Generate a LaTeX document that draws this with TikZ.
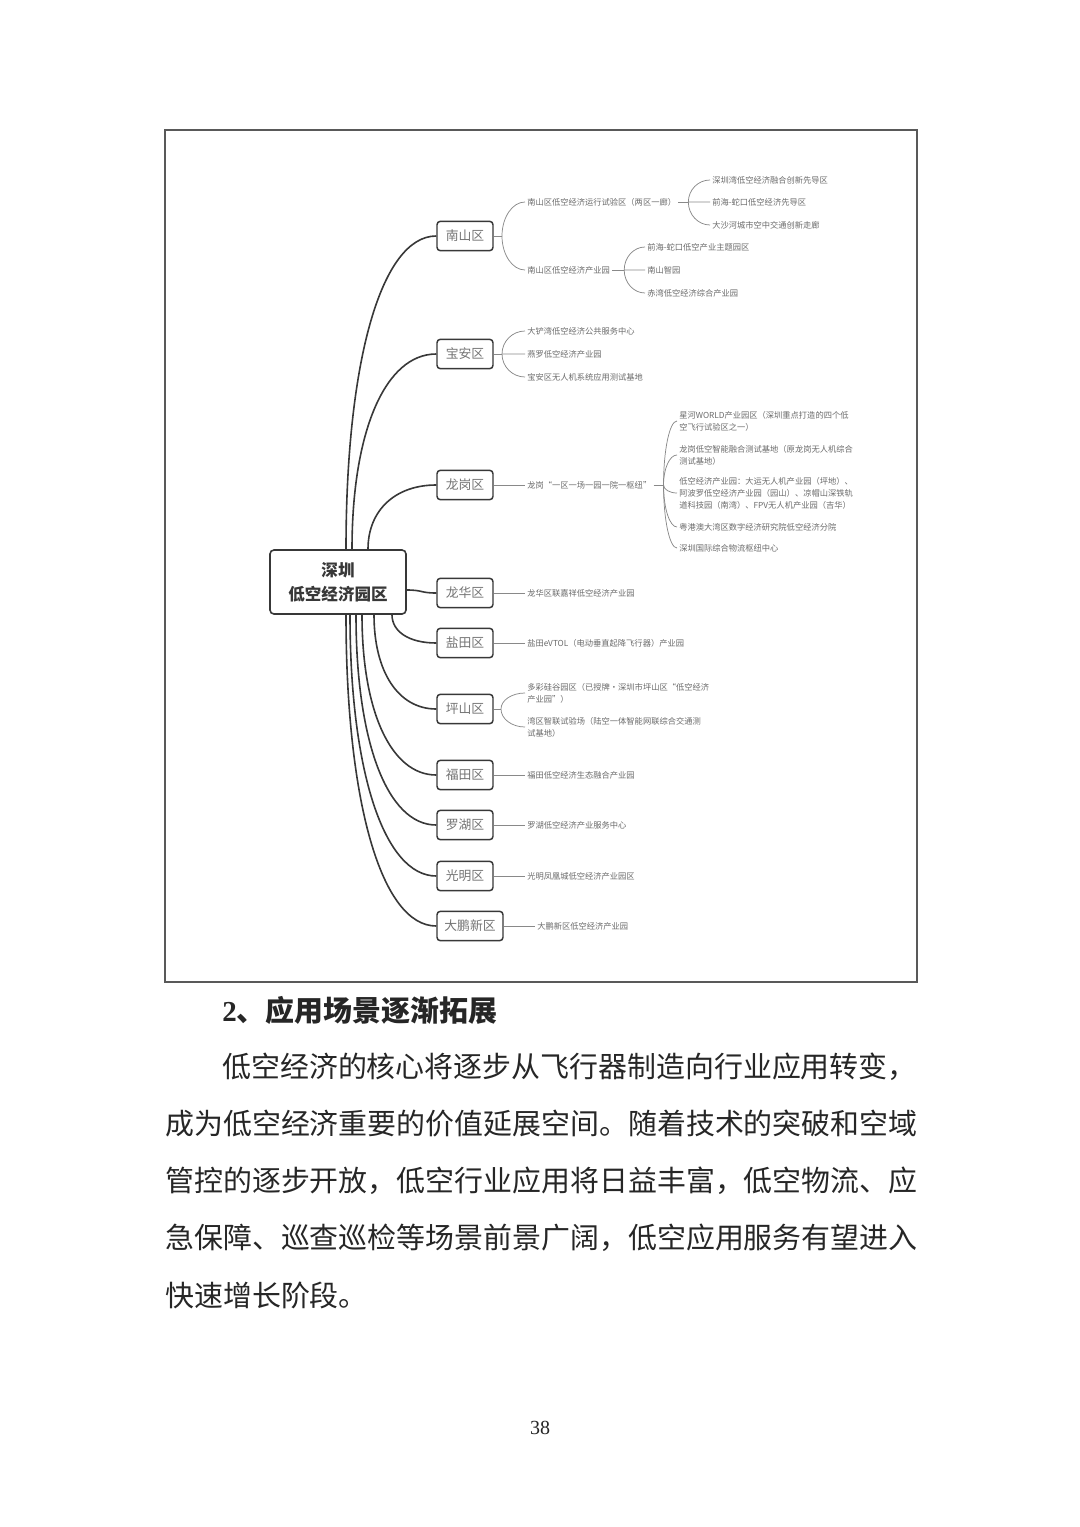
\documentclass[tikz,border=0pt]{standalone}
\usepackage{fontspec}
\setmainfont{Liberation Serif}
\newfontfamily\cjk{Noto Sans CJK SC}
\usetikzlibrary{positioning, calc}
\definecolor{ast}{gray}{0.22}
\definecolor{blattgrau}{gray}{0.42}
\definecolor{rahmen}{gray}{0.35}
\definecolor{fliess}{gray}{0.15}
\newcommand{\bogen}[2]{\draw[fein] (#1) .. controls ($(#1)!0.55!(#1|-#2.west)$) and ($(#2.west)!0.55!(#1|-#2.west)$) .. (#2.west);}
\tikzset{
  haupt/.style={draw=ast, rounded corners=3pt, line width=1.2pt, fill=white, text=ast, align=center, inner sep=0pt,
    minimum width=102pt, minimum height=48pt, font=\cjk\bfseries\fontsize{12.4}{18}\selectfont},
  bezirk/.style={draw=ast, rounded corners=2.5pt, line width=1.1pt, fill=white, text=ast!70, inner sep=0pt,
    minimum width=42pt, minimum height=22pt, font=\cjk\fontsize{9.6}{12}\selectfont},
  blatt/.style={anchor=west, align=left, inner xsep=1.5pt, inner ysep=0pt, text=blattgrau, font=\cjk\fontsize{6.2}{9}\selectfont},
  zweig/.style={draw=ast, line width=1.2pt},
  fein/.style={draw=blattgrau!80, line width=0.55pt},
  zeile/.style={anchor=west, inner sep=0pt, text=fliess, font=\cjk\fontsize{21.7}{26}\selectfont},
}

\begin{document}
\begin{tikzpicture}[x=0.75pt, y=-0.75pt]
  \path[use as bounding box, fill=white] (0,0) rectangle (1080,1527);
  \draw[rahmen, line width=0.8pt] (165,130) rectangle (917,982);

  % Mitte und Bezirke
  \node[haupt] (hub) at (338,582) {深圳\\低空经济园区};
  \node[bezirk] (nanshan) at (465,236) {南山区};
  \node[bezirk] (baoan) at (465,354) {宝安区};
  \node[bezirk] (longgang) at (465,485) {龙岗区};
  \node[bezirk] (longhua) at (465,593) {龙华区};
  \node[bezirk] (yantian) at (465,643) {盐田区};
  \node[bezirk] (pingshan) at (465,709) {坪山区};
  \node[bezirk] (futian) at (465,775) {福田区};
  \node[bezirk] (luohu) at (465,825) {罗湖区};
  \node[bezirk] (guangming) at (465,876) {光明区};
  \node[bezirk, minimum width=49.5pt] (dapeng) at (470,926) {大鹏新区};

  \draw[zweig] ($(hub.north)+(8,0)$) .. controls +(0,-188) and +(-55,0) .. (nanshan.west);
  \draw[zweig] ($(hub.north)+(14,0)$) .. controls +(0,-118) and +(-51,0) .. (baoan.west);
  \draw[zweig] ($(hub.north)+(30,0)$) .. controls +(0,-39) and +(-41,0) .. (longgang.west);
  \draw[zweig] ($(hub.east)+(0,8)$) .. controls +(16,0) and +(-16,0) .. (longhua.west);
  \foreach \ziel/\ab/\v/\h in {yantian/54/17/27, pingshan/36/57/38, futian/24/97/45,
      luohu/18/127/49, guangming/12/157/52, dapeng/8/187/55}
    {\draw[zweig] ($(hub.south)+(\ab,0)$) .. controls +(0,\v) and +(-\h,0) .. (\ziel.west);}

  % Nanshan
  \node[blatt] (ns1) at (525,202) {南山区低空经济运行试验区（两区一廊）};
  \node[blatt] (ns2) at (525,270) {南山区低空经济产业园};
  \coordinate (jns) at (502,236);
  \draw[fein] (nanshan.east) -- (jns);
  \bogen{jns}{ns1} \bogen{jns}{ns2}
  \node[blatt] (ns11) at (710,180) {深圳湾低空经济融合创新先导区};
  \node[blatt] (ns12) at (710,202) {前海-蛇口低空经济先导区};
  \node[blatt] (ns13) at (710,225) {大沙河城市空中交通创新走廊};
  \coordinate (jns1) at ($(ns1.east)+(10,0)$);
  \draw[fein] (ns1.east) -- (jns1);
  \foreach \k in {ns11,ns12,ns13} {\bogen{jns1}{\k}}
  \node[blatt] (ns21) at (645,247) {前海-蛇口低空产业主题园区};
  \node[blatt] (ns22) at (645,270) {南山智园};
  \node[blatt] (ns23) at (645,293) {赤湾低空经济综合产业园};
  \coordinate (jns2) at ($(ns2.east)+(12,0)$);
  \draw[fein] (ns2.east) -- (jns2);
  \foreach \k in {ns21,ns22,ns23} {\bogen{jns2}{\k}}

  % Bao'an
  \node[blatt] (ba1) at (525,331) {大铲湾低空经济公共服务中心};
  \node[blatt] (ba2) at (525,354) {燕罗低空经济产业园};
  \node[blatt] (ba3) at (525,377) {宝安区无人机系统应用测试基地};
  \coordinate (jba) at (502,354);
  \draw[fein] (baoan.east) -- (jba);
  \foreach \k in {ba1,ba2,ba3} {\bogen{jba}{\k}}

  % Longgang
  \node[blatt] (lg0) at (525,485) {龙岗“一区一场一园一院一枢纽”};
  \node[blatt] (lg1) at (677,421) {星河WORLD产业园区（深圳重点打造的四个低\\空飞行试验区之一）};
  \node[blatt] (lg2) at (677,455) {龙岗低空智能融合测试基地（原龙岗无人机综合\\测试基地）};
  \node[blatt] (lg3) at (677,493) {低空经济产业园：大运无人机产业园（坪地）、\\阿波罗低空经济产业园（园山）、凉帽山深铁轨\\道科技园（南湾）、FPV无人机产业园（吉华）};
  \node[blatt] (lg4) at (677,527) {粤港澳大湾区数字经济研究院低空经济分院};
  \node[blatt] (lg5) at (677,548) {深圳国际综合物流枢纽中心};
  \coordinate (jlg) at ($(lg0.east)+(10,0)$);
  \draw[fein] (lg0.east) -- (jlg);
  \foreach \k in {lg1,lg2,lg3,lg4,lg5} {\bogen{jlg}{\k}}

  % Pingshan
  \node[blatt] (ps1) at (525,693) {多彩硅谷园区（已授牌·深圳市坪山区“低空经济\\产业园”）};
  \node[blatt] (ps2) at (525,727) {湾区智联试验场（陆空一体智能网联综合交通测\\试基地）};
  \coordinate (jps) at (501,709);
  \draw[fein] (pingshan.east) -- (jps);
  \bogen{jps}{ps1} \bogen{jps}{ps2}

  % einzelne Blaetter
  \node[blatt] (lh1) at (525,593) {龙华区联嘉祥低空经济产业园};
  \node[blatt] (yt1) at (525,643) {盐田eVTOL（电动垂直起降飞行器）产业园};
  \node[blatt] (ft1) at (525,775) {福田低空经济生态融合产业园};
  \node[blatt] (lu1) at (525,825) {罗湖低空经济产业服务中心};
  \node[blatt] (gm1) at (525,876) {光明凤凰城低空经济产业园区};
  \node[blatt] (dp1) at (535,926) {大鹏新区低空经济产业园};
  \foreach \von/\nach in {longgang/lg0, longhua/lh1, yantian/yt1, futian/ft1, luohu/lu1, guangming/gm1, dapeng/dp1}
    {\draw[fein] (\von.east) -- (\nach.west);}

  % Fliesstext
  \node[zeile, font=\cjk\bfseries\fontsize{21.7}{26}\selectfont] (titel) at (222,1010) {{\rmfamily 2}、应用场景逐渐拓展};
  \node[zeile] (z1) at (222,1067) {低空经济的核心将逐步从飞行器制造向行业应用转变，};
  \node[zeile] (z2) at (165,1124) {成为低空经济重要的价值延展空间。随着技术的突破和空域};
  \node[zeile] (z3) at (165,1181) {管控的逐步开放，低空行业应用将日益丰富，低空物流、应};
  \node[zeile] (z4) at (165,1238) {急保障、巡查巡检等场景前景广阔，低空应用服务有望进入};
  \node[zeile] (z5) at (165,1295) {快速增长阶段。};
  \node[text=fliess, font=\fontsize{15}{18}\selectfont] (seite) at (540,1428) {38};
\end{tikzpicture}
\end{document}
